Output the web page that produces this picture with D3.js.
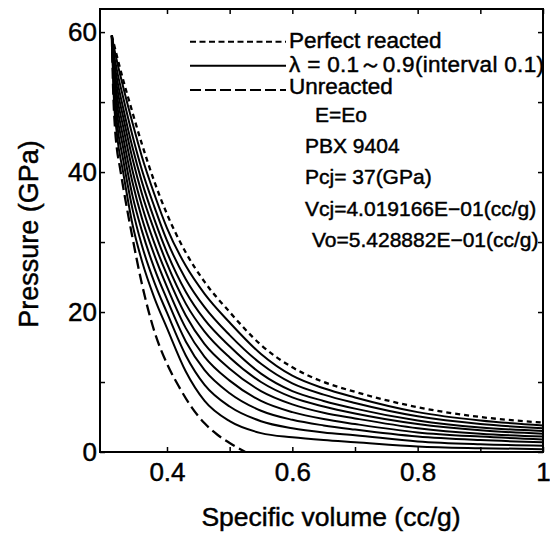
<!doctype HTML>
<html>
<head>
    <script src="https://d3js.org/d3.v7.min.js"></script>
    <style>
        body { margin: 0; background: #fff; }
        text { font-family: "Liberation Sans", Arial, sans-serif; fill: #000; stroke: #000; stroke-width: 0.45px; }
    </style>
</head>
<body>
<script>
    // values: pressure (GPa) vs specific volume (cc/g)
    var volume = [0.312, 0.315, 0.32, 0.33, 0.345, 0.36, 0.38, 0.40, 0.43, 0.46, 0.50, 0.55, 0.60, 0.65, 0.70, 0.80, 0.90, 1.0];
    var perfectReacted = [59.5, 58.4, 56.6, 53.2, 48.5, 44.0, 38.6, 34.0, 28.5, 24.3, 20.0, 15.3, 12.1, 10.0, 8.6, 6.4, 5.0, 4.2];

    var unreactedVolume = [0.312, 0.314, 0.317, 0.32, 0.325, 0.33, 0.345, 0.36, 0.38, 0.40, 0.42, 0.44, 0.46, 0.48, 0.50, 0.525];
    var unreacted = [59.5, 52, 46.3, 43.4, 40.6, 37.9, 30.6, 24.0, 17.2, 12.6, 9.2, 6.3, 4.1, 2.5, 1.3, 0];

    // lambda = 0.1 ... 0.9
    var lambda1 = [59.5, 51.0, 45.5, 40.0, 32.5, 27.3, 22.0, 17.7, 11.5, 7.3, 4.4, 2.7, 2.1, 1.7, 1.4, 0.8, 0.55, 0.4];
    var lambda2 = [59.5, 52.1, 47.1, 41.8, 34.7, 29.5, 24.2, 19.9, 13.8, 9.6, 6.5, 4.4, 3.4, 2.8, 2.4, 1.5, 1.1, 0.9];
    var lambda3 = [59.5, 53.0, 48.5, 43.5, 36.6, 31.6, 26.2, 21.8, 15.8, 11.7, 8.4, 5.9, 4.6, 3.8, 3.2, 2.2, 1.7, 1.4];
    var lambda4 = [59.5, 53.9, 49.8, 45.0, 38.5, 33.4, 28.1, 23.6, 17.7, 13.6, 10.2, 7.3, 5.7, 4.7, 4.0, 2.8, 2.2, 1.8];
    var lambda5 = [59.5, 54.7, 51.0, 46.5, 40.2, 35.2, 29.8, 25.3, 19.5, 15.4, 11.9, 8.7, 6.8, 5.6, 4.8, 3.4, 2.6, 2.2];
    var lambda6 = [59.5, 55.5, 52.2, 47.9, 41.9, 36.9, 31.6, 26.9, 21.2, 17.2, 13.5, 10.0, 7.8, 6.5, 5.5, 4.0, 3.1, 2.6];
    var lambda7 = [59.5, 56.3, 53.4, 49.2, 43.5, 38.6, 33.2, 28.5, 22.9, 18.9, 15.1, 11.2, 8.7, 7.3, 6.2, 4.5, 3.5, 3.0];
    var lambda8 = [59.5, 57.1, 54.6, 50.7, 45.2, 40.3, 35.0, 30.2, 24.7, 20.7, 16.7, 12.6, 9.8, 8.2, 7.0, 5.1, 4.0, 3.4];
    var lambda9 = [59.5, 58.0, 55.9, 52.2, 47.0, 42.2, 36.8, 32.0, 26.6, 22.6, 18.5, 14.0, 10.9, 9.1, 7.8, 5.7, 4.5, 3.8];
    var lambdaSeries = [lambda1, lambda2, lambda3, lambda4, lambda5, lambda6, lambda7, lambda8, lambda9];

    var xTicks = [0.4, 0.5, 0.6, 0.7, 0.8, 0.9, 1.0];
    var xLabels = [0.4, 0.6, 0.8, 1.0];
    var yTicks = [0, 10, 20, 30, 40, 50, 60];
    var yLabels = [0, 20, 40, 60];

    var legendItems = ["Perfect reacted", "\u03bb = 0.1\uff5e0.9(interval 0.1)", "Unreacted"];
    var notes = ["E=Eo", "PBX 9404", "Pcj= 37(GPa)", "Vcj=4.019166E\u221201(cc/g)", "Vo=5.428882E\u221201(cc/g)"];

    var canvasWidth = 550;
    var canvasHeight = 533;
    var plotLeft = 100, plotRight = 543, plotTop = 9, plotBottom = 452;

    var svg = d3.select("body").append("svg")
        .attr("width", canvasWidth)
        .attr("height", canvasHeight);

    var xScale = d3.scaleLinear().domain([0.2931, 1]).range([plotLeft, plotRight]);
    var yScale = d3.scaleLinear().domain([0, 63.3]).range([plotBottom, plotTop]);

    // axes (ticks pointing inward)
    svg.append("g")
        .attr("transform", "translate(0," + plotBottom + ")")
        .call(d3.axisBottom(xScale).tickValues(xTicks).tickSize(-5).tickPadding(11)
            .tickFormat(function(d) { return xLabels.indexOf(d) >= 0 ? d3.format("")(d) : ""; }));
    svg.append("g")
        .attr("transform", "translate(0," + plotTop + ")")
        .call(d3.axisTop(xScale).tickValues(xTicks).tickSize(-5).tickFormat(""));
    svg.append("g")
        .attr("transform", "translate(" + plotLeft + ",0)")
        .call(d3.axisLeft(yScale).tickValues(yTicks).tickSize(-5).tickPadding(3)
            .tickFormat(function(d) { return yLabels.indexOf(d) >= 0 ? d : ""; }));
    svg.append("g")
        .attr("transform", "translate(" + plotRight + ",0)")
        .call(d3.axisRight(yScale).tickValues(yTicks).tickSize(-5).tickFormat(""));

    svg.selectAll(".domain").remove();
    svg.selectAll(".tick line").attr("stroke", "#000").attr("stroke-width", 1.5);
    svg.selectAll(".tick text").attr("font-size", "26px").attr("font-family", "Liberation Sans, Arial, sans-serif");

    svg.append("rect")
        .attr("x", plotLeft).attr("y", plotTop)
        .attr("width", plotRight - plotLeft).attr("height", plotBottom - plotTop)
        .attr("fill", "none").attr("stroke", "#000").attr("stroke-width", 2);

    svg.append("clipPath").attr("id", "plot")
        .append("rect").attr("x", plotLeft).attr("y", plotTop)
        .attr("width", plotRight - plotLeft).attr("height", plotBottom - plotTop);

    var line = d3.line()
        .x(function(d) { return xScale(d[0]); })
        .y(function(d) { return yScale(d[1]); })
        .curve(d3.curveMonotoneX);

    var curves = svg.append("g").attr("clip-path", "url(#plot)");

    curves.selectAll(".lambda")
        .data(lambdaSeries)
        .enter().append("path")
        .attr("class", "lambda")
        .attr("d", function(s) { return line(d3.zip(volume, s)); })
        .attr("fill", "none").attr("stroke", "#000").attr("stroke-width", 2);

    curves.append("path")
        .attr("d", line(d3.zip(volume, perfectReacted)))
        .attr("fill", "none").attr("stroke", "#000").attr("stroke-width", 2.3)
        .attr("stroke-dasharray", "5,4");

    curves.append("path")
        .attr("d", line(d3.zip(unreactedVolume, unreacted)))
        .attr("fill", "none").attr("stroke", "#000").attr("stroke-width", 2.3)
        .attr("stroke-dasharray", "11,5");

    // legend
    var dashes = ["6,3.5", null, "11,4"];
    var legendLineY = [41.7, 65.7, 90];
    var legendTextY = [47.5, 71.5, 94];
    var legend = svg.append("g");
    legendItems.forEach(function(label, i) {
        legend.append("line")
            .attr("x1", 190).attr("x2", 286).attr("y1", legendLineY[i]).attr("y2", legendLineY[i])
            .attr("stroke", "#000").attr("stroke-width", 2)
            .attr("stroke-dasharray", dashes[i]);
        var t = legend.append("text")
            .attr("x", 289).attr("y", legendTextY[i])
            .attr("font-size", "22.5px")
            .text(label);
        if (i === 1) t.attr("textLength", 255).attr("lengthAdjust", "spacing");
    });

    var noteX = [315, 305, 305, 305, 312];
    var noteY = [122, 153, 184, 216, 247];
    notes.forEach(function(t, i) {
        svg.append("text")
            .attr("x", noteX[i]).attr("y", noteY[i])
            .attr("font-size", "21px")
            .text(t);
    });

    // axis titles
    svg.append("text")
        .attr("x", 331).attr("y", 526)
        .attr("text-anchor", "middle")
        .attr("font-size", "26.5px")
        .text("Specific volume (cc/g)");

    svg.append("text")
        .attr("transform", "translate(38,234) rotate(-90)")
        .attr("text-anchor", "middle")
        .attr("font-size", "27px")
        .text("Pressure (GPa)");
</script>
</body>
</html>
